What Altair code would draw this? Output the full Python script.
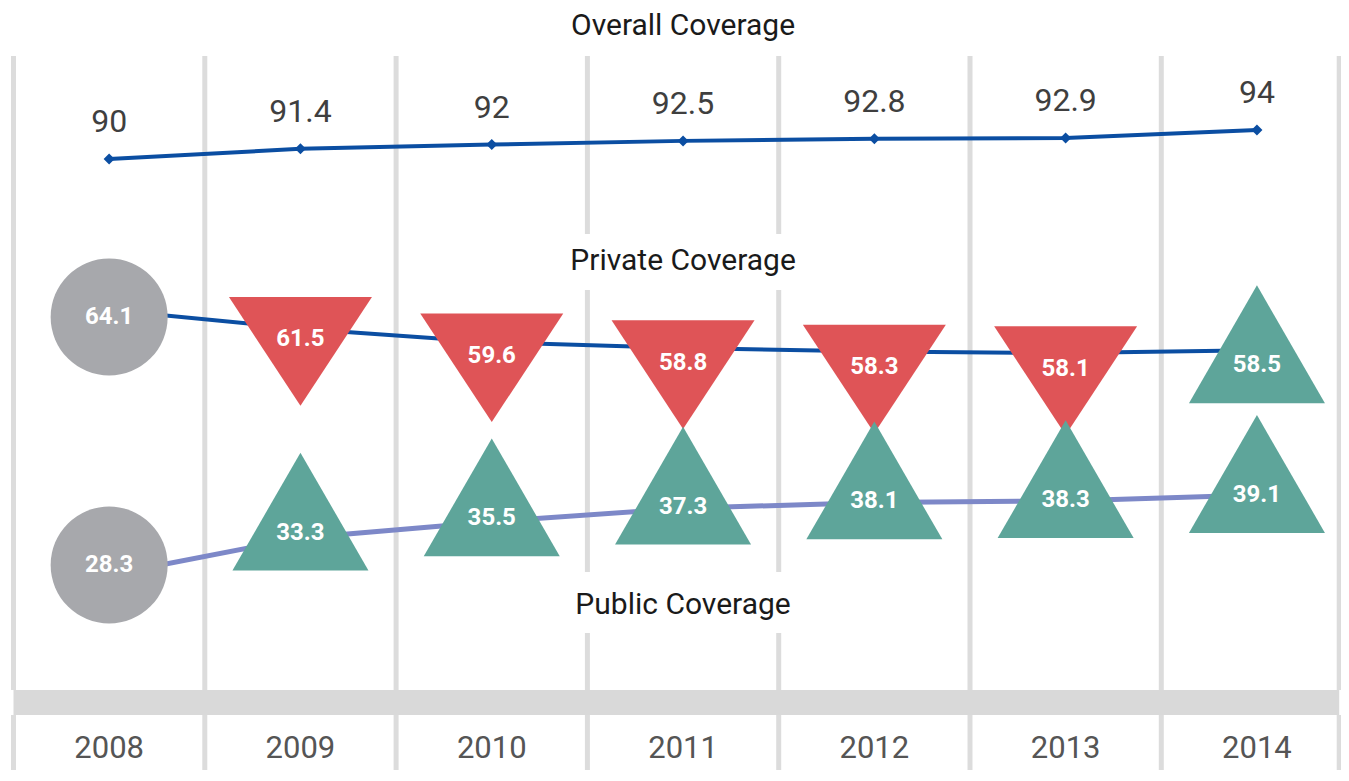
import altair as alt
import pandas as pd

# ---- data -------------------------------------------------------------
years = [2008, 2009, 2010, 2011, 2012, 2013, 2014]
year_labels = ["2008", "2009", "2010", "2011", "2012", "2013", "2014"]
overall = [90, 91.4, 92, 92.5, 92.8, 92.9, 94]
private = [64.1, 61.5, 59.6, 58.8, 58.3, 58.1, 58.5]
public = [28.3, 33.3, 35.5, 37.3, 38.1, 38.3, 39.1]
titles = ["Overall Coverage", "Private Coverage", "Public Coverage"]

# ---- styles -----------------------------------------------------------
BLUE = "#0b4ea2"
LIGHT = "#7d88c8"
GRAY = "#a7a8ac"
RED = "#df5457"
TEAL = "#5ea59a"
GRID = "#dcdcdc"
FONT = "Roboto"
W, H = 1333, 762


def kind(vals):
    out = []
    for i, v in enumerate(vals):
        if i == 0:
            out.append("base")
        elif v < vals[i - 1]:
            out.append("down")
        else:
            out.append("up")
    return out


def lbl(v):
    return f"{v:g}"


df_over = pd.DataFrame({"year": years, "v": overall, "label": [lbl(v) for v in overall]})
df_priv = pd.DataFrame({"year": years, "v": private, "label": [lbl(v) for v in private], "kind": kind(private)})
df_pub = pd.DataFrame({"year": years, "v": public, "label": [lbl(v) for v in public], "kind": kind(public)})
df_years = pd.DataFrame({"year": years, "label": year_labels})
bounds = [y - 0.5 for y in years] + [years[-1] + 0.43]
df_bounds = pd.DataFrame({"b": bounds})
mid = (years[0] + years[-1]) / 2
df_band = pd.DataFrame({"x0": [bounds[0]], "x1": [bounds[-1]]})
df_box = pd.DataFrame({"x0": [mid - 0.75], "x1": [mid + 0.75]})

x_scale = alt.Scale(domain=[years[0] - 0.5, years[-1] + 0.5], range=[5.5, 1344.6], nice=False, zero=False)


def X(field="year"):
    return alt.X(f"{field}:Q", scale=x_scale, axis=None)


def yscale(domain, rng):
    return alt.Scale(domain=domain, range=rng, nice=False, zero=False)


# ---- background grid -------------------------------------------------
grid_top = alt.Chart(df_bounds).mark_rule(color=GRID, strokeWidth=5).encode(
    x=X("b"), y=alt.value(48), y2=alt.value(682))
grid_bot = alt.Chart(df_bounds).mark_rule(color=GRID, strokeWidth=5).encode(
    x=X("b"), y=alt.value(707), y2=alt.value(H))
band = alt.Chart(df_band).mark_rect(color="#d9d9d9").encode(
    x=X("x0"), x2="x1", y=alt.value(682), y2=alt.value(707))
box1 = alt.Chart(df_box).mark_rect(color="white").encode(
    x=X("x0"), x2="x1", y=alt.value(226), y2=alt.value(282))
box2 = alt.Chart(df_box).mark_rect(color="white").encode(
    x=X("x0"), x2="x1", y=alt.value(564), y2=alt.value(625))

year_txt = alt.Chart(df_years).mark_text(font=FONT, fontSize=31, color="#555555", baseline="middle").encode(
    x=X(), y=alt.value(741), text="label:N")

df_mid = pd.DataFrame({"year": [mid]})
title_layers = []
for t, yy in zip(titles, [18, 253, 597]):
    title_layers.append(
        alt.Chart(df_mid).mark_text(font=FONT, fontSize=30, color="#1a1a1a", baseline="middle", text=t).encode(
            x=X(), y=alt.value(yy)))

# ---- overall ---------------------------------------------------------
y_over = yscale([90, 94], [151, 122])
over_line = alt.Chart(df_over).mark_line(color=BLUE, strokeWidth=4).encode(
    x=X(), y=alt.Y("v:Q", scale=y_over, axis=None))
over_pts = alt.Chart(df_over).mark_point(shape="diamond", filled=True, size=121, color=BLUE, opacity=1).encode(
    x=X(), y=alt.Y("v:Q", scale=y_over, axis=None))
over_txt = alt.Chart(df_over).mark_text(font=FONT, fontSize=32, color="#3f3f3f", baseline="middle", dy=-37).encode(
    x=X(), y=alt.Y("v:Q", scale=y_over, axis=None), text="label:N")


def marker_layers(df, line_scale, mark_scale, line_color, line_width):
    yl = alt.Y("v:Q", scale=line_scale, axis=None)
    layers = [alt.Chart(df).mark_line(color=line_color, strokeWidth=line_width).encode(x=X(), y=yl)]
    base = alt.Chart(df)
    layers.append(base.transform_filter(alt.datum.kind == "base").mark_point(
        shape="circle", filled=True, size=117 ** 2, color=GRAY, opacity=1).encode(
        x=X(), y=alt.Y("v:Q", scale=mark_scale, axis=None)))
    layers.append(base.transform_filter(alt.datum.kind == "down").mark_point(
        shape="M-1,-0.76L1,-0.76L0,0.76Z", filled=True, size=143 ** 2, color=RED, opacity=1, yOffset=12).encode(
        x=X(), y=alt.Y("v:Q", scale=mark_scale, axis=None)))
    layers.append(base.transform_filter(alt.datum.kind == "up").mark_point(
        shape="triangle-up", filled=True, size=136 ** 2, color=TEAL, opacity=1, yOffset=-21).encode(
        x=X(), y=alt.Y("v:Q", scale=mark_scale, axis=None)))
    layers.append(base.mark_text(font=FONT, fontSize=24, fontWeight="bold", color="white", baseline="middle").encode(
        x=X(), y=alt.Y("v:Q", scale=mark_scale, axis=None), text="label:N"))
    return layers


priv_layers = marker_layers(df_priv, yscale([58.1, 64.1], [345, 302]), yscale([58.1, 64.1], [360.7, 309]), BLUE, 4)
pub_layers = marker_layers(df_pub, yscale([28.3, 39.1], [567, 487]), yscale([28.3, 39.1], [557, 487]), LIGHT, 5)

chart = alt.layer(
    grid_top, grid_bot, band, box1, box2, year_txt, *title_layers,
    over_line, over_pts, over_txt,
    *priv_layers, *pub_layers,
).resolve_scale(y="independent").properties(
    width=W, height=H, padding=0,
    autosize=alt.AutoSizeParams(type="none"),
    background="white",
).configure_view(stroke=None)

chart.save("out.html", embed_options={"renderer": "svg", "actions": False})
